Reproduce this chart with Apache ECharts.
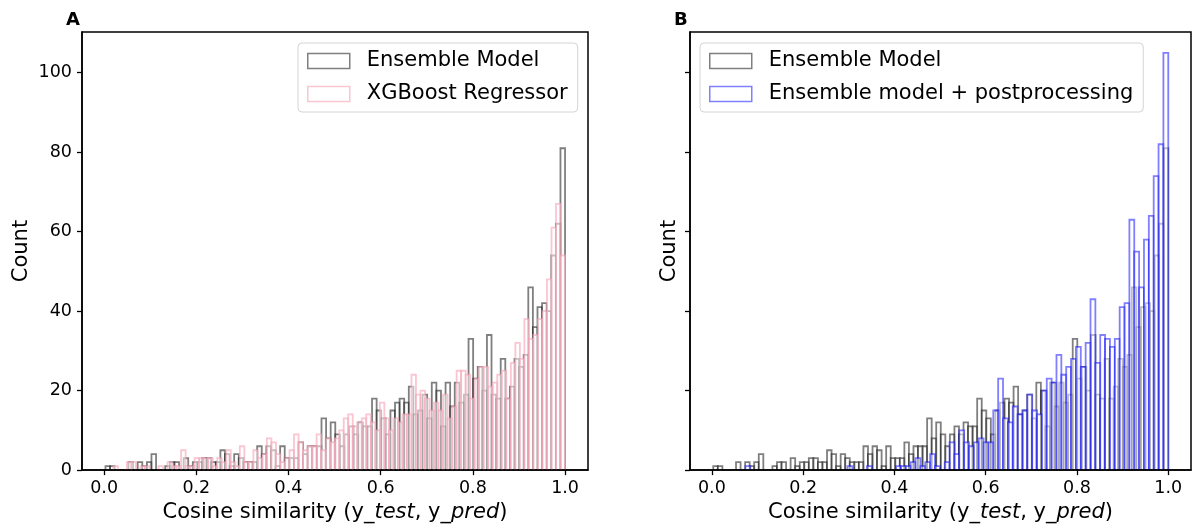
<!DOCTYPE html>
<html>
<head>
<meta charset="utf-8">
<script src="https://cdn.jsdelivr.net/npm/echarts@6/dist/echarts.min.js"></script>
<style>
html,body{margin:0;padding:0;background:#fff;}
#chart{width:1194px;height:528px;}
</style>
</head>
<body>
<div id="chart"></div>
<script>
// ---- data (counts per histogram bin, 100 bins each) ----
const ensembleCounts = [
  1,1,0,0,0,2,0,2,1,2,
  4,0,0,1,2,2,0,3,1,2,
  2,3,3,2,2,5,4,1,4,3,
  2,2,2,6,4,6,5,1,6,3,
  3,3,7,4,6,6,6,13,8,12,
  9,6,9,11,9,12,11,11,18,15,
  13,9,15,17,18,17,21,14,15,19,
  13,22,20,11,22,16,22,17,19,33,
  23,26,20,34,19,18,28,18,21,28,
  26,29,46,36,41,42,40,54,62,81
];
const xgboostCounts = [
  1,0,0,2,2,0,1,1,0,0,
  1,0,2,1,1,5,1,1,3,3,
  3,3,1,3,2,5,2,1,6,2,
  2,5,3,4,8,7,4,2,3,5,
  9,7,5,6,6,9,5,8,7,8,
  10,13,14,11,12,13,14,12,10,17,
  13,10,13,12,14,14,24,19,20,18,
  15,17,15,19,13,16,25,25,24,18,
  23,26,26,21,22,24,25,18,27,32,
  28,38,33,34,38,40,48,61,67,54
];
const postCounts = [
  0,0,0,0,0,0,0,0,0,0,
  0,0,0,1,0,0,0,0,0,0,
  0,0,0,0,0,0,0,0,0,0,
  0,0,0,0,1,0,0,0,1,0,
  0,0,0,0,1,1,1,2,3,1,
  2,4,1,0,2,7,4,10,7,6,
  7,8,7,7,15,23,13,12,16,14,
  15,19,15,14,20,23,22,29,24,26,
  28,31,26,32,43,27,34,33,31,33,
  41,42,63,55,46,58,64,74,82,105
];
// bin ranges [first edge, last edge]
const ensembleRange = [0.003, 1.0];
const xgboostRange = [0.02, 1.0];
const postRange = [-0.065, 1.0];
const xTicks = [0, 0.2, 0.4, 0.6, 0.8, 1.0];
const yTicks = [0, 20, 40, 60, 80, 100];
const seriesNames = ['Ensemble Model', 'XGBoost Regressor', 'Ensemble model + postprocessing'];
const panelLabels = ['A', 'B'];
const xLabelParts = ['Cosine similarity (y_', 'test', ', y_', 'pred', ')'];
const yLabel = 'Count';

// ---- helpers ----
function toBins(counts, range) {
  const w = (range[1] - range[0]) / counts.length;
  const out = [];
  counts.forEach((c, i) => { if (c > 0) out.push([range[0] + i * w, range[0] + (i + 1) * w, c]); });
  return out;
}
const LW = 1.8;
function makeRender(stroke) {
  return function (params, api) {
    const x0 = api.value(0), x1 = api.value(1), c = api.value(2);
    const p0 = api.coord([x0, 0]);
    const p1 = api.coord([x1, c]);
    return {
      type: 'group',
      children: [
        { type: 'rect', shape: { x: p0[0], y: p1[1], width: p1[0] - p0[0], height: p0[1] - p1[1] - 1 },
          style: { fill: 'rgba(255,255,255,0.5)', stroke: null } },
        { type: 'polyline', shape: { points: [[p0[0], p0[1]], [p0[0], p1[1]], [p1[0], p1[1]], [p1[0], p0[1]]] },
          style: { fill: null, stroke: stroke, lineWidth: LW } }
      ]
    };
  };
}
const FONT = 'DejaVu Sans';
const GRAY = 'rgba(0,0,0,0.5)', PINK = 'rgba(245,160,180,0.6)', BLUE = 'rgba(0,0,255,0.5)';
const xName = xLabelParts[0] + '{it|' + xLabelParts[1] + '}' + xLabelParts[2] + '{it|' + xLabelParts[3] + '}' + xLabelParts[4];

function xAxisCfg(gi) {
  return {
    type: 'value', gridIndex: gi, min: -0.048, max: 1.0498, z: 5,
    axisLine: { show: true, onZero: false, lineStyle: { color: '#000', width: 1.5 } },
    axisTick: { show: true, length: 5, lineStyle: { color: '#000', width: 1.3 }, customValues: xTicks },
    axisLabel: { customValues: xTicks, formatter: v => v.toFixed(1), fontFamily: FONT, fontSize: 17.5, color: '#000', margin: 9 },
    splitLine: { show: false },
    name: xName, nameLocation: 'middle', nameGap: 31,
    nameTextStyle: { fontFamily: FONT, fontSize: 21, color: '#000',
      rich: { it: { fontFamily: FONT, fontSize: 21, fontStyle: 'italic', color: '#000' } } }
  };
}
function yAxisCfg(gi, showLabels, gap) {
  return {
    type: 'value', gridIndex: gi, min: 0, max: 110.25, z: 5,
    axisLine: { show: true, onZero: false, lineStyle: { color: '#000', width: 1.5 } },
    axisTick: { show: true, length: 5, lineStyle: { color: '#000', width: 1.3 }, customValues: yTicks },
    axisLabel: { show: showLabels, customValues: yTicks, fontFamily: FONT, fontSize: 17.5, color: '#000', margin: 10 },
    splitLine: { show: false },
    name: yLabel, nameLocation: 'middle', nameGap: gap, nameRotate: 90,
    nameTextStyle: { fontFamily: FONT, fontSize: 21, color: '#000' }
  };
}
function legendCfg(left, names, strokes) {
  return {
    left: left, top: 43, orient: 'vertical', itemWidth: 42, itemHeight: 15, itemGap: 11,
    padding: [7, 10, 7, 9], backgroundColor: 'rgba(255,255,255,0.8)', borderColor: '#d4d4d4',
    borderWidth: 1, borderRadius: 4, selectedMode: false, icon: 'rect',
    textStyle: { fontFamily: FONT, fontSize: 21, lineHeight: 22, color: '#000', padding: [0, 0, 0, 12] },
    data: names.map((n, i) => ({ name: n, icon: 'rect',
      itemStyle: { color: 'rgba(255,255,255,0.5)', borderColor: strokes[i], borderWidth: 1.5 } }))
  };
}

const option = {
  animation: false,
  backgroundColor: '#fff',
  grid: [
    { left: 82, top: 32, width: 506, height: 440.5, show: true, borderColor: '#000', borderWidth: 1.5, backgroundColor: 'transparent' },
    { left: 690, top: 32, width: 501, height: 440.5, show: true, borderColor: '#000', borderWidth: 1.5, backgroundColor: 'transparent' }
  ],
  xAxis: [xAxisCfg(0), xAxisCfg(1)],
  yAxis: [yAxisCfg(0, true, 50), yAxisCfg(1, false, 10)],
  legend: [
    legendCfg(298, [seriesNames[0], seriesNames[1]], [GRAY, PINK]),
    legendCfg(700, [seriesNames[0], seriesNames[2]], [GRAY, BLUE])
  ],
  title: [
    { text: panelLabels[0], left: 61, top: 6, textStyle: { fontFamily: FONT, fontSize: 18, fontWeight: 'bold', color: '#000' } },
    { text: panelLabels[1], left: 669, top: 6, textStyle: { fontFamily: FONT, fontSize: 18, fontWeight: 'bold', color: '#000' } }
  ],
  series: [
    { type: 'custom', name: seriesNames[0], xAxisIndex: 0, yAxisIndex: 0, renderItem: makeRender(GRAY),
      itemStyle: { color: GRAY }, encode: { x: [0, 1], y: 2 }, data: toBins(ensembleCounts, ensembleRange), z: 2 },
    { type: 'custom', name: seriesNames[1], xAxisIndex: 0, yAxisIndex: 0, renderItem: makeRender(PINK),
      itemStyle: { color: PINK }, encode: { x: [0, 1], y: 2 }, data: toBins(xgboostCounts, xgboostRange), z: 3 },
    { type: 'custom', name: seriesNames[0], xAxisIndex: 1, yAxisIndex: 1, renderItem: makeRender(GRAY),
      itemStyle: { color: GRAY }, encode: { x: [0, 1], y: 2 }, data: toBins(ensembleCounts, ensembleRange), z: 2 },
    { type: 'custom', name: seriesNames[2], xAxisIndex: 1, yAxisIndex: 1, renderItem: makeRender(BLUE),
      itemStyle: { color: BLUE }, encode: { x: [0, 1], y: 2 }, data: toBins(postCounts, postRange), z: 3 }
  ]
};
const chart = echarts.init(document.getElementById('chart'), null, { renderer: 'canvas' });
chart.setOption(option);
</script>
</body>
</html>
